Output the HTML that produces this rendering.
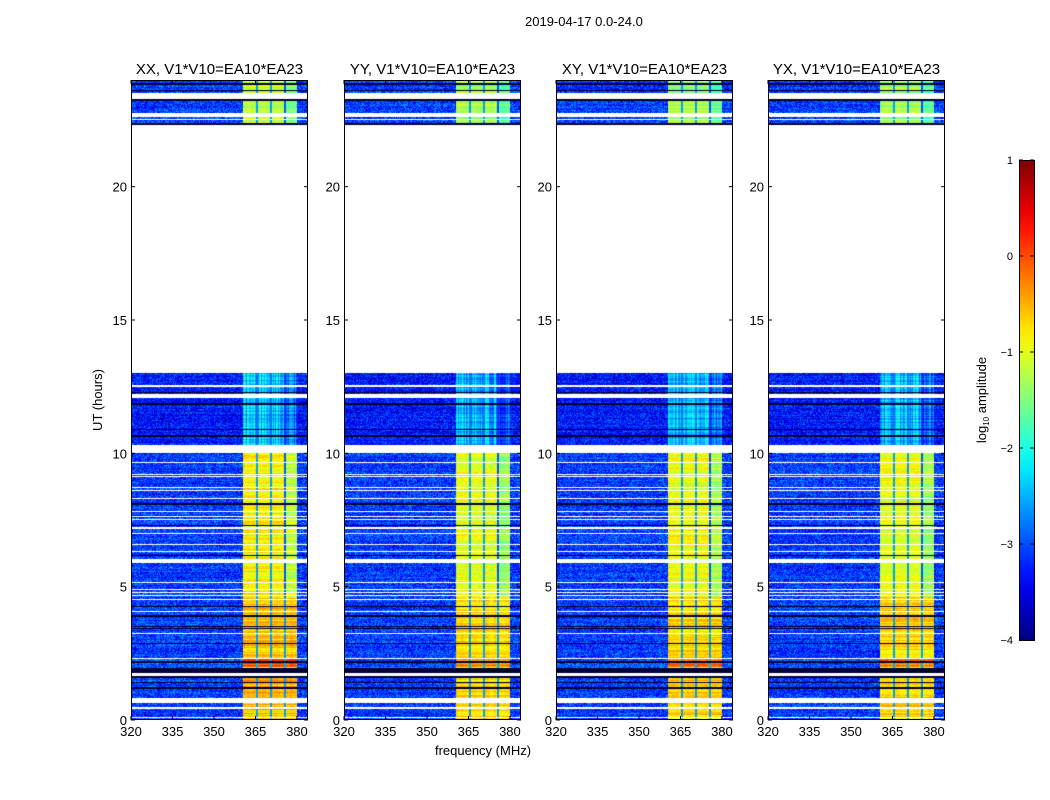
<!DOCTYPE html>
<html><head><meta charset="utf-8"><style>
body{margin:0;background:#fff;width:1050px;height:800px;overflow:hidden;font-family:"Liberation Sans",sans-serif;position:relative}
.t{position:absolute;font-size:13px;color:#000;white-space:nowrap}
canvas{position:absolute;z-index:1}
#ax{z-index:2}
</style></head><body>
<div class="t" style="left:525px;top:14px">2019-04-17 0.0-24.0</div>
<svg id="ax" width="1050" height="800" style="position:absolute;left:0;top:0"></svg>
<script>
// ---- data ----
const panels = ["XX, V1*V10=EA10*EA23","YY, V1*V10=EA10*EA23","XY, V1*V10=EA10*EA23","YX, V1*V10=EA10*EA23"];
const panelBandOffset = [0, -0.15, -0.1, -0.12];
const segStart = [0, 1.6, 2.0, 2.3, 4.6, 10.3, 22.3];
const segEnd   = [1.6, 2.0, 2.3, 4.6, 10.0, 13.0, 24.0];
const segBand  = [-0.55, -1.2, -0.1, -0.6, -0.85, -2.4, -1.2];
const segBg    = [-3.1, -3.0, -3.0, -3.1, -3.1, -3.3, -3.1];
const whiteStart = [0.08,0.42,0.63,1.65,2.29,3.24,4.05,4.5,4.65,4.76,4.86,5.13,5.87,6.3,6.55,6.98,7.18,7.5,7.6,7.8,8.3,8.58,8.7,9.1,9.17,9.63,10.0,12.06,12.5,22.5,22.63,23.3];
const whiteEnd   = [0.13,0.47,0.81,1.75,2.33,3.28,4.09,4.54,4.69,4.8,4.9,5.17,6.02,6.34,6.6,7.02,7.22,7.54,7.64,7.84,8.34,8.62,8.74,9.14,9.21,9.67,10.3,12.24,12.55,22.55,22.75,23.5];
const blackStart = [1.18,1.38,1.75,1.58,2.13,2.86,3.4,3.48,3.88,4.25,6.16,7.28,8.08,10.28,10.63,10.88,11.83,12.25,22.33,23.23,23.58,23.83];
const blackEnd   = [1.22,1.42,1.95,1.65,2.21,2.9,3.44,3.52,3.92,4.29,6.2,7.32,8.12,10.32,10.67,10.92,11.87,12.31,22.38,23.27,23.62,23.87];
const bandLo = 360.5, bandHi = 380;
const notches = [365.7, 370.7, 375.6];
const xTicks = [320,335,350,365,380];
const yTicks = [0,5,10,15,20];
const cbTicks = [1,0,-1,-2,-3,-4];
// ---- layout ----
const panelX = [131,344,556,768], PW=177, PT=80, PB=720;
const fMin=320,fMax=384,tMin=0,tMax=24;
const xS=(f,i)=>panelX[i]+(f-fMin)/(fMax-fMin)*PW;
const yS=t=>PB-(t-tMin)/(tMax-tMin)*(PB-PT);
function jet(v){
  let x=(v+4)/5; x=Math.max(0,Math.min(1,x));
  const r=Math.max(0,Math.min(1,Math.min(4*x-1.5,-4*x+4.5)));
  const g=Math.max(0,Math.min(1,Math.min(4*x-0.5,-4*x+3.5)));
  const b=Math.max(0,Math.min(1,Math.min(4*x+0.5,-4*x+2.5)));
  return [r*255|0,g*255|0,b*255|0];
}
function hash(a,b){let h=(a*374761393+b*668265263)|0;h=(h^(h>>>13))*1274126177|0;return ((h^(h>>>16))>>>0)/4294967296;}
function inList(t,s,e){for(let k=0;k<s.length;k++)if(t>=s[k]&&t<e[k])return true;return false;}
const svg=document.getElementById('ax');const NS='http://www.w3.org/2000/svg';
function mk(tag,attrs,name,parent){const e=document.createElementNS(NS,tag);for(const k in attrs)e.setAttribute(k,attrs[k]);


(parent||svg).appendChild(e);return e;}
function txt(x,y,s,anchor,size,name,extra){const e=mk('text',Object.assign({x:x,y:y,'text-anchor':anchor,'font-size':size,'font-family':'Liberation Sans, sans-serif',fill:'#000'},extra||{}),name);e.textContent=s;return e;}
panels.forEach((title,i)=>{
  const c=document.createElement('canvas');c.width=PW;c.height=PB-PT;c.style.left=panelX[i]+'px';c.style.top=PT+'px';
  
  
  document.body.appendChild(c);
  const ctx=c.getContext('2d');const img=ctx.createImageData(PW,PB-PT);
  for(let py=0;py<PB-PT;py++){
    const t=tMax-(py+0.5)/(PB-PT)*(tMax-tMin);
    let seg=-1;for(let k=0;k<segStart.length;k++)if(t>=segStart[k]&&t<segEnd[k])seg=k;
    const white=seg<0||inList(t,whiteStart,whiteEnd);
    const black=!white&&inList(t,blackStart,blackEnd);
    const rowN=(hash(py,i+7)-0.5);
    for(let px=0;px<PW;px++){
      const o=(py*PW+px)*4;let col;
      if(white)col=[255,255,255];
      else if(black)col=[0,0,50];
      else{
        const f=fMin+(px+0.5)/PW*(fMax-fMin);
        let v=segBg[seg]+(hash(px+i*1000,py)-0.5)*1.0+rowN*0.3;
        if(f>=bandLo&&f<bandHi){
          let nearN=notches.some(n=>Math.abs(f-n)<0.35);
          const colN=(hash(px,i+99)-0.5);
          v=nearN?segBg[seg]+0.5:segBand[seg]+panelBandOffset[i]+(hash(px,py+i*333)-0.5)*0.3+rowN*0.5+colN*(seg==5?0.8:0.15);
          if(f>bandHi-4.5&&seg>=4)v-=0.35;
        }
        col=jet(v);
      }
      img.data[o]=col[0];img.data[o+1]=col[1];img.data[o+2]=col[2];img.data[o+3]=255;
    }
  }
  ctx.putImageData(img,0,0);
  const L=panelX[i],R=L+PW;
  mk('rect',{x:L+0.5,y:PT+0.5,width:PW-1,height:PB-PT-1,fill:'none',stroke:'#000','stroke-width':1},'panel-frame');
  txt(L+PW/2,74,title,'middle',15,'panel-title');
  xTicks.forEach(f=>{const x=xS(f,i);
    mk('line',{x1:x,x2:x,y1:PB,y2:PB-4,stroke:'#000'},'x-tick');
    mk('line',{x1:x,x2:x,y1:PT,y2:PT+4,stroke:'#000'},'x-tick-top');
    txt(x,736,String(f),'middle',13,'x-tick-label');});
  yTicks.forEach(t=>{const y=yS(t);
    mk('line',{x1:L,x2:L+4,y1:y,y2:y,stroke:'#000'},'y-tick');
    mk('line',{x1:R-4,x2:R,y1:y,y2:y,stroke:'#000'},'y-tick-right');
    txt(L-4,y+5,String(t),'end',13,'y-tick-label');});
});
txt(483,755,'frequency (MHz)','middle',13,'x-axis-title');
txt(0,0,'UT (hours)','middle',13,'y-axis-title',{transform:'translate(102,400) rotate(-90)'});
const defs=mk('defs',{},'defs');const g=mk('linearGradient',{id:'jet',x1:0,y1:1,x2:0,y2:0},'colorbar-gradient',defs);
for(let k=0;k<=20;k++){const c=jet(-4+k*5/20);mk('stop',{offset:k/20,'stop-color':`rgb(${c})`},'gradient-stop',g);}
mk('rect',{x:1019.5,y:160.5,width:15,height:480,fill:'url(#jet)',stroke:'#000'},'colorbar');
cbTicks.forEach(v=>{const y=160+(1-v)/5*480;
  mk('line',{x1:1019,x2:1023,y1:y,y2:y,stroke:'#000'},'colorbar-tick');
  mk('line',{x1:1030,x2:1034,y1:y,y2:y,stroke:'#000'},'colorbar-tick-right');
  txt(1013,y+4,(v<0?'\u2212'+(-v):String(v)),'end',11,'colorbar-tick-label');});
const lab=txt(0,0,'','middle',13,'colorbar-title',{transform:'translate(986,400) rotate(-90)'});
lab.innerHTML='log<tspan font-size="8" dy="3">10</tspan><tspan dy="-3"> amplitude</tspan>';
</script>
</body></html>
